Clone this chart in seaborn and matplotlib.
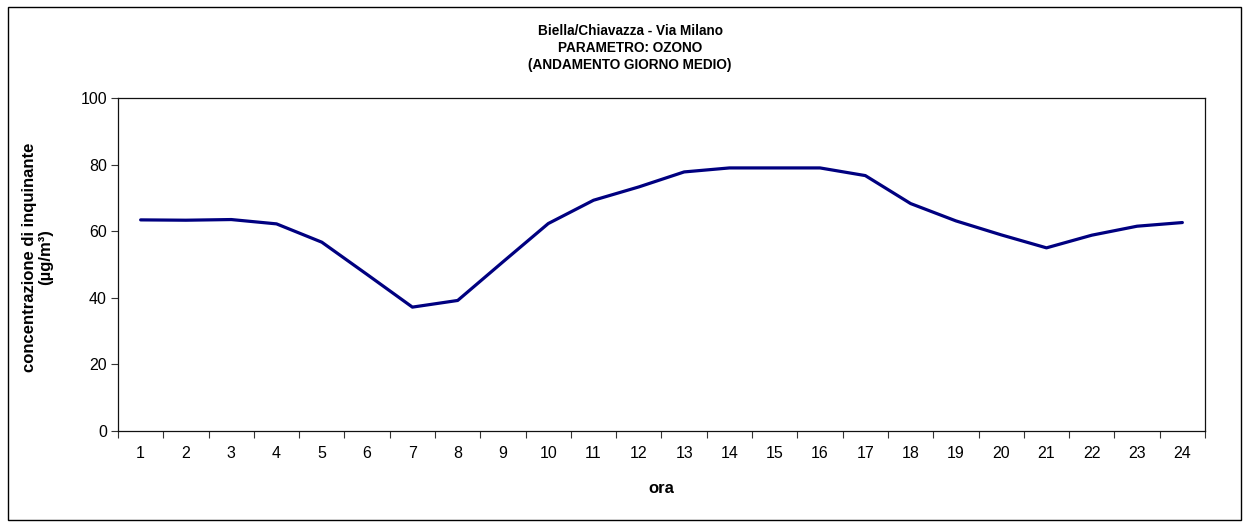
import numpy as np
import pandas as pd
import matplotlib.pyplot as plt
import seaborn as sns
from matplotlib.patches import Rectangle
from matplotlib.ticker import FixedLocator, NullFormatter


# hourly averages
hours = list(range(1, 25))
ozone = [63.4, 63.3, 63.5, 62.2, 56.7, 47.0, 37.2, 39.2, 50.8, 62.3, 69.3, 73.3,
         77.8, 79.0, 79.0, 79.0, 76.7, 68.3, 63.1, 58.9, 55.0, 58.8, 61.5, 62.6]
title_lines = ["Biella/Chiavazza - Via Milano", "PARAMETRO: OZONO", "(ANDAMENTO GIORNO MEDIO)"]

df = pd.DataFrame({"ora": hours, "valore": ozone})

sns.set_style("ticks")
plt.rcParams["font.family"] = ["Liberation Sans", "DejaVu Sans"]
plt.rcParams["text.color"] = "black"
plt.rcParams["axes.labelcolor"] = "black"
plt.rcParams["xtick.color"] = "black"
plt.rcParams["ytick.color"] = "black"

fig = plt.figure(figsize=(12.47, 5.25), dpi=100)
ax = fig.add_axes([118 / 1247, 1 - 431 / 525, (1205 - 118) / 1247, (431 - 98) / 525])

sns.lineplot(data=df, x="ora", y="valore", color="#000080", linewidth=2.3, ax=ax)

ax.set_xlim(0.5, 24.5)
ax.set_ylim(0, 100)
ax.set_yticks(np.arange(0, 101, 20))
# excel-style category axis: ticks between categories, labels centred
ax.xaxis.set_major_locator(FixedLocator(np.arange(0.5, 25, 1)))
ax.xaxis.set_major_formatter(NullFormatter())
ax.xaxis.set_minor_locator(FixedLocator(hours))
ax.set_xticklabels([str(h) for h in hours], minor=True)
ax.tick_params(axis="x", which="major", length=5, width=0.8, color="#333333", direction="out")
ax.tick_params(axis="x", which="minor", length=0, labelsize=11.5, pad=11)
ax.tick_params(axis="y", length=5, width=0.8, color="#333333", labelsize=11.5, pad=3)

for side in ["top", "right", "left", "bottom"]:
    ax.spines[side].set_visible(True)
    ax.spines[side].set_color("#111111")
    ax.spines[side].set_linewidth(0.9)

ax.set_xlabel("ora", fontsize=12, fontweight="bold", labelpad=14)
ax.set_ylabel("concentrazione di inquinante\n(µg/m³)", fontsize=12, fontweight="bold",
              linespacing=1.05)
ax.yaxis.set_label_coords(-0.06, 0.521)

for i, line in enumerate(title_lines):
    fig.text(630 / 1247, 1 - (31 + i * 17) / 525, line, ha="center", va="center",
             fontsize=9.8, fontweight="bold")

# outer frame around the whole chart
fig.patches.append(Rectangle((8 / 1247, 5 / 525), 1233 / 1247, 513 / 525, transform=fig.transFigure,
                             fill=False, edgecolor="black", linewidth=1.0))

plt.savefig("out.png", dpi=100)
